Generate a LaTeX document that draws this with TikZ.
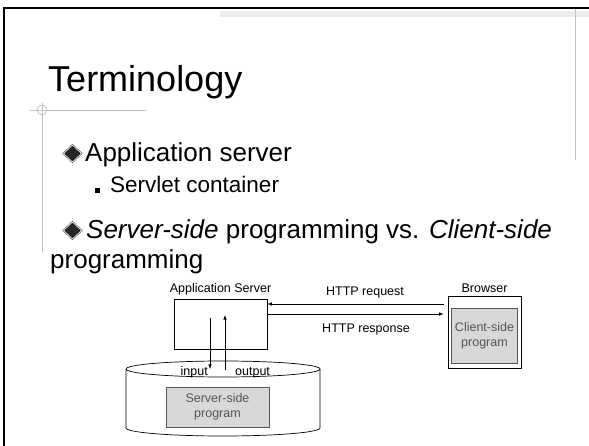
\documentclass[tikz,border=0pt]{standalone}
\usepackage{fontspec}
\setmainfont{Liberation Sans}
\usetikzlibrary{arrows,positioning,shapes.geometric}
\definecolor{mybargrey}{RGB}{236,236,236}
\definecolor{myrulegrey}{RGB}{192,192,192}
\definecolor{myfillgrey}{RGB}{216,216,216}
\definecolor{mytextgrey}{RGB}{85,85,85}

\begin{document}
\begin{tikzpicture}[
  x=1pt, y=-1pt,
  >=latex,
  mytext/.style={
    anchor=base west,
    inner sep=0pt,
    font=\fontsize{#1}{#1}\selectfont
    },
  mylabel/.style={
    inner sep=0pt,
    font=\fontsize{12.5}{15}\selectfont
    },
  mybox/.style={
    draw,
    line width=0.7pt
    },
  myprog/.style={
    draw=mytextgrey,
    fill=myfillgrey,
    text=mytextgrey,
    line width=0.7pt,
    align=center,
    font=\fontsize{12.5}{15}\selectfont
    },
  mydiamond/.style={
    diamond,
    draw=black,
    fill=black!85,
    double=white,
    double distance=0.7pt,
    inner sep=0pt,
    minimum width=18pt,
    minimum height=17pt
    },
  mysquare/.style={
    fill=black,
    inner sep=0pt,
    minimum size=5pt
    }
]
\useasboundingbox (0,0) rectangle (589,446);

% slide frame
\fill[mybargrey] (220,11) rectangle (589,17);
\draw[myrulegrey, line width=0.8pt] (575,7) -- (575,160);
\draw[black, line width=2.5pt] (4,446) -- (4,8) -- (589,8);
\draw[myrulegrey, line width=0.8pt] (30,110) -- (146,110);
\draw[myrulegrey, line width=0.8pt] (42,103) -- (42,252);
\draw[myrulegrey, line width=0.8pt] (42,110) circle (5);

% title and bullets
\node[mytext=36] (title) at (48,92) {Terminology};
\node[mydiamond] (dot1) at (72.5,153.5) {};
\node[mytext=26] (item1) at (85,162) {Application server};
\node[mysquare] (dot2) at (97.5,190.5) {};
\node[mytext=22.5] (item2) at (110,193) {Servlet container};
\node[mydiamond] (dot3) at (72.5,230.5) {};
\node[mytext=26] (item3) at (86,239) {\textit{Server-side} programming vs. \textit{Client-side}};
\node[mytext=26] (item3b) at (50,269) {programming};

% server side
\node[mybox, minimum width=93pt, minimum height=50pt] (appsrv) at (220.5,324) {};
\node[mylabel, above=3pt of appsrv] (appsrvlbl) {Application Server};
\draw[line width=0.7pt] (126,369) -- (126,428) arc[start angle=180, end angle=0, x radius=97, y radius=8] -- (320,369);
\draw[line width=0.7pt] (223,369) ellipse[x radius=97, y radius=8];
\coordinate (dbtop) at (223,369);
\node[myprog, minimum width=103pt, minimum height=40pt] (srvprog) at (217.5,407) {Server-side\\program};
\coordinate (in1) at (210,318);
\coordinate (out1) at (225,315);
\draw[->, line width=0.6pt] (in1) -- (in1 |- dbtop);
\draw[<-, line width=0.6pt] (out1) -- ([yshift=-1pt]out1 |- dbtop);
\node[mylabel, anchor=base east] (inlbl) at (208,375) {input};
\node[mylabel, anchor=base west] (outlbl) at (235,375) {output};

% client side
\node[mybox, minimum width=73pt, minimum height=72pt] (browser) at (484.5,332) {};
\node[mylabel, above=3pt of browser] (browserlbl) {Browser};
\node[myprog, minimum width=65pt, minimum height=55pt] (cliprog) at (484.5,335.5) {Client-side\\program};
\coordinate (req) at ([yshift=28pt]browser.west);
\coordinate (resp) at ([yshift=18pt]browser.west);
\draw[->, line width=0.6pt, shorten <=4pt] (req) -- (req -| appsrv.east);
\draw[<-, line width=0.6pt, shorten <=4pt] (resp) -- (resp -| appsrv.east);
\node[mylabel, anchor=base] (reqlbl) at (365,296) {HTTP request};
\node[mylabel, anchor=base] (resplbl) at (366,333) {HTTP response};

\end{tikzpicture}
\end{document}
